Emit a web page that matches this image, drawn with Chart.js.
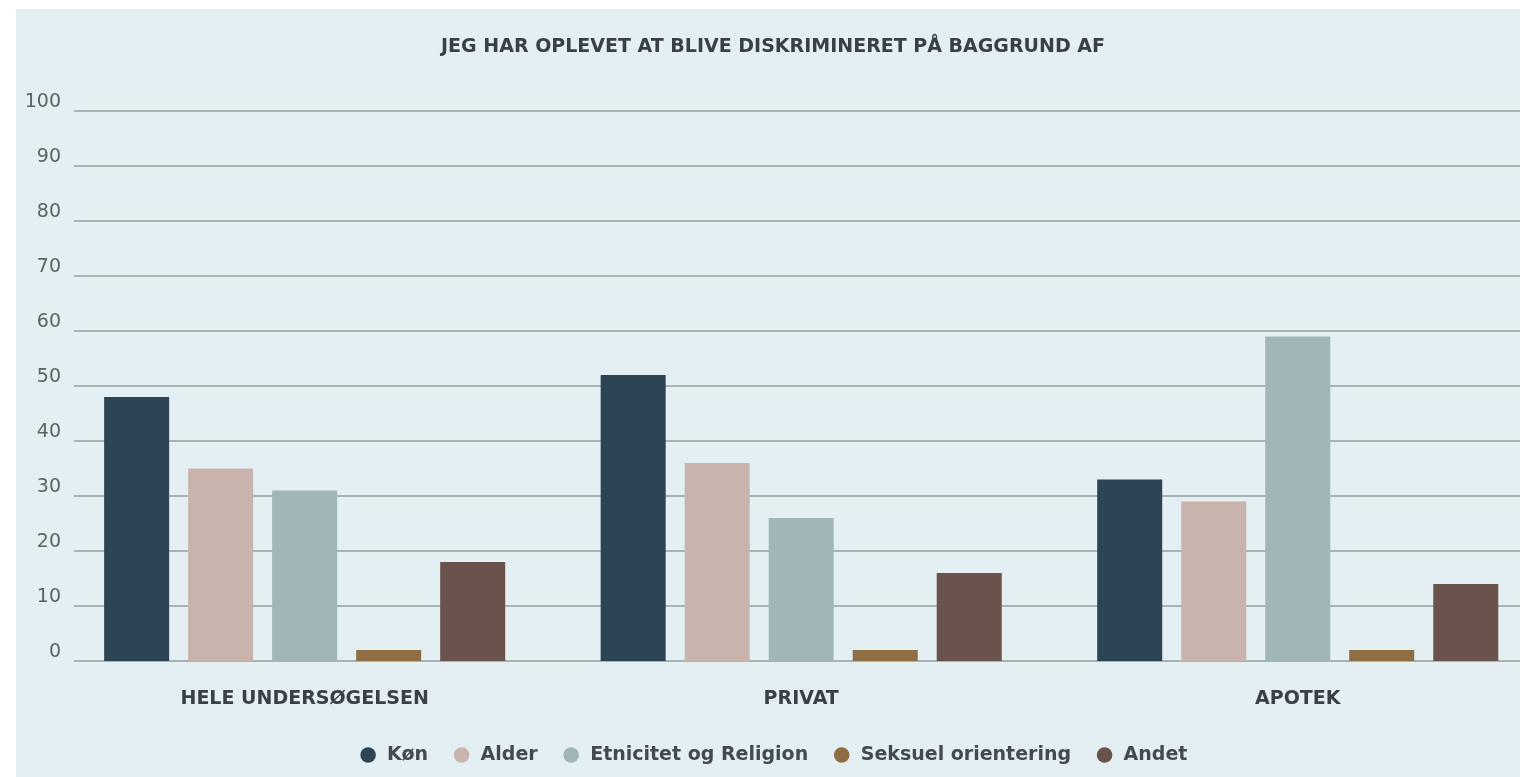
<!DOCTYPE html>
<html>
<head>
<meta charset="utf-8">
<script src="https://cdn.jsdelivr.net/npm/chart.js@4.4.1/dist/chart.umd.min.js"></script>
<style>
html, body { margin:0; padding:0; overflow:hidden; background:#ffffff; width:1520px; height:777px; }
#panel { position:absolute; left:16px; top:9px; width:1600px; height:800px; background:#e4eff4; }
#c { position:absolute; left:0; top:0; }
</style>
</head>
<body>
<div id="panel"></div>
<canvas id="c" width="1546" height="777"></canvas>
<script>
// ---- data ----
const titleText = 'JEG HAR OPLEVET AT BLIVE DISKRIMINERET PÅ BAGGRUND AF';
const categories = ['HELE UNDERSØGELSEN', 'PRIVAT', 'APOTEK'];
const seriesNames = ['Køn', 'Alder', 'Etnicitet og Religion', 'Seksuel orientering', 'Andet'];
const konValues = [48, 52, 33];
const alderValues = [35, 36, 29];
const etnicitetValues = [31, 26, 59];
const seksuelValues = [2, 2, 2];
const andetValues = [18, 16, 14];
const yMin = 0;
const yMax = 100;
const yStep = 10;

// ---- styles ----
const seriesColors = ['#2d4454', '#c8b4ad', '#a0b6b8', '#8f6e44', '#6a524d'];
const fontFamily = '"DejaVu Sans", sans-serif';

const seriesValues = [konValues, alderValues, etnicitetValues, seksuelValues, andetValues];

const gridPlugin = {
  id: 'hgrid',
  beforeDatasetsDraw(chart) {
    const { ctx, chartArea, scales } = chart;
    const y = scales.y;
    ctx.save();
    ctx.strokeStyle = '#a9b2b5';
    ctx.lineWidth = 2;
    y.ticks.forEach(t => {
      const py = Math.round(y.getPixelForValue(t.value));
      ctx.beginPath();
      ctx.moveTo(chartArea.left + 17.5, py);
      ctx.lineTo(chartArea.right, py);
      ctx.stroke();
    });
    ctx.restore();
  }
};

new Chart(document.getElementById('c'), {
  type: 'bar',
  data: {
    labels: categories,
    datasets: seriesNames.map((name, i) => ({
      label: name,
      data: seriesValues[i],
      backgroundColor: seriesColors[i],
      borderWidth: 0,
      barPercentage: 0.774,
      categoryPercentage: 0.846
    }))
  },
  options: {
    responsive: false,
    animation: false,
    devicePixelRatio: 1,
    layout: { padding: { left: 0, right: 0, top: 0, bottom: 2.5 } },
    plugins: {
      title: {
        display: true,
        text: titleText,
        color: '#3b4046',
        font: { family: fontFamily, size: 19, weight: 'bold' },
        padding: { top: 35.6, bottom: 52.6 }
      },
      legend: {
        position: 'bottom',
        labels: {
          usePointStyle: true,
          pointStyle: 'circle',
          boxWidth: 19,
          boxHeight: 11,
          padding: 24,
          color: '#454a50',
          font: { family: fontFamily, size: 19, weight: 'bold' }
        }
      },
      tooltip: { enabled: false }
    },
    scales: {
      x: {
        grid: { display: false },
        border: { display: false },
        ticks: {
          color: '#3b4046',
          padding: 18.6,
          font: { family: fontFamily, size: 19, weight: 'bold' }
        },
        afterFit(scale) { scale.height = 60.5; }
      },
      y: {
        min: yMin,
        max: yMax,
        grid: { display: false },
        border: { display: false },
        ticks: {
          stepSize: yStep,
          color: '#5d6266',
          mirror: true,
          crossAlign: 'far',
          padding: -31.7,
          labelOffset: -9,
          font: { family: fontFamily, size: 19 }
        },
        afterFit(scale) { scale.width = 56.4; }
      }
    }
  },
  plugins: [gridPlugin]
});
</script>
</body>
</html>
